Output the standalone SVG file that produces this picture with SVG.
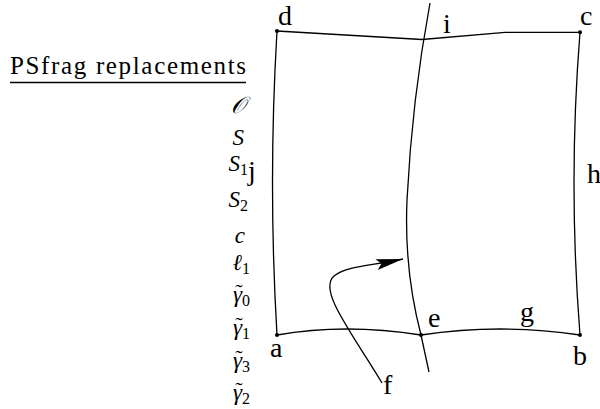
<svg xmlns="http://www.w3.org/2000/svg" width="600" height="409" viewBox="0 0 600 409">
<defs>
<marker id="arr" markerUnits="userSpaceOnUse" markerWidth="28" markerHeight="12" viewBox="0 0 28 12" refX="27" refY="6" orient="auto">
<path d="M0,0.5 L27,6 L0,11.5 L5,6 Z" fill="#000"/>
</marker>
</defs>
<rect width="600" height="409" fill="#fff"/>
<g id="legend" fill="#000">
<text font-family="Liberation Serif, Times New Roman, serif" font-size="25" x="10" y="74" textLength="236" lengthAdjust="spacing">PSfrag replacements</text>
<line x1="10" y1="82.5" x2="246" y2="82.5" stroke="#000" stroke-width="1.3"/>
<text font-family="Liberation Serif, Times New Roman, serif" font-size="23" font-style="italic" text-anchor="end" x="245" y="113">𝒪</text>
<text font-family="Liberation Serif, Times New Roman, serif" font-size="23" font-style="italic" text-anchor="end" x="244" y="145">S</text>
<text font-family="Liberation Serif, Times New Roman, serif" font-size="23" font-style="italic" text-anchor="end" x="248" y="171">S<tspan font-style="normal" font-size="16" dy="4">1</tspan></text>
<text font-family="Liberation Serif, Times New Roman, serif" font-size="23" font-style="italic" text-anchor="end" x="248" y="207">S<tspan font-style="normal" font-size="16" dy="4">2</tspan></text>
<text font-family="Liberation Serif, Times New Roman, serif" font-size="23" font-style="italic" text-anchor="end" x="245" y="243">c</text>
<text font-family="Liberation Serif, Times New Roman, serif" font-size="23" font-style="italic" text-anchor="end" x="250" y="270">ℓ<tspan font-style="normal" font-size="16" dy="4">1</tspan></text>
<text font-family="Liberation Serif, Times New Roman, serif" font-size="23" font-style="italic" text-anchor="end" x="250" y="302">γ<tspan font-style="normal" font-size="16" dy="4">0</tspan></text>
<text font-family="Liberation Serif, Times New Roman, serif" font-size="23" font-style="italic" text-anchor="end" x="250" y="335">γ<tspan font-style="normal" font-size="16" dy="4">1</tspan></text>
<text font-family="Liberation Serif, Times New Roman, serif" font-size="23" font-style="italic" text-anchor="end" x="250" y="368">γ<tspan font-style="normal" font-size="16" dy="4">3</tspan></text>
<text font-family="Liberation Serif, Times New Roman, serif" font-size="23" font-style="italic" text-anchor="end" x="250" y="400">γ<tspan font-style="normal" font-size="16" dy="4">2</tspan></text>
<text font-family="Liberation Serif, Times New Roman, serif" font-size="22" text-anchor="middle" x="239" y="299">˜</text>
<text font-family="Liberation Serif, Times New Roman, serif" font-size="22" text-anchor="middle" x="239" y="332">˜</text>
<text font-family="Liberation Serif, Times New Roman, serif" font-size="22" text-anchor="middle" x="239" y="365">˜</text>
<text font-family="Liberation Serif, Times New Roman, serif" font-size="22" text-anchor="middle" x="239" y="397">˜</text>
</g>
<g id="connectors" fill="none" stroke="#000" stroke-width="1.3">
<path d="M277,31 L422,39.5 L505,32.3 L580,32.3"/>
<path d="M277,31 Q268,183 277,335"/>
<path d="M580,32.3 Q568,183 580,335"/>
<path d="M277,335 Q345,323 421,335 Q500,323 580,335"/>
<path d="M430,3 Q412,100 407,200 Q404,270 421,335 L429,372"/>
<path d="M382,383 C350,330 318,290 334,276 C346,266 370,266 403,259" marker-end="url(#arr)"/>
</g>
<g id="labels" fill="#000">
<g id="node-d"><circle cx="277" cy="31" r="2"/><text font-family="Liberation Serif, Times New Roman, serif" font-size="28" x="278" y="25">d</text></g>
<g id="node-c"><circle cx="580" cy="32.3" r="2"/><text font-family="Liberation Serif, Times New Roman, serif" font-size="28" x="580" y="25">c</text></g>
<g id="node-a"><circle cx="277" cy="335" r="2"/><text font-family="Liberation Serif, Times New Roman, serif" font-size="28" x="270" y="357">a</text></g>
<g id="node-b"><circle cx="580" cy="335" r="2"/><text font-family="Liberation Serif, Times New Roman, serif" font-size="28" x="573" y="365">b</text></g>
<g id="node-e"><circle cx="421" cy="335" r="2"/><text font-family="Liberation Serif, Times New Roman, serif" font-size="28" x="428" y="327">e</text></g>
<g id="node-i"><text font-family="Liberation Serif, Times New Roman, serif" font-size="28" x="443" y="33">i</text></g>
<g id="node-h"><text font-family="Liberation Serif, Times New Roman, serif" font-size="28" x="587" y="183">h</text></g>
<g id="node-j"><text font-family="Liberation Serif, Times New Roman, serif" font-size="28" x="248" y="180">j</text></g>
<g id="node-g"><text font-family="Liberation Serif, Times New Roman, serif" font-size="28" x="520" y="321">g</text></g>
<g id="node-f"><text font-family="Liberation Serif, Times New Roman, serif" font-size="28" x="383" y="394">f</text></g>
</g>
</svg>
